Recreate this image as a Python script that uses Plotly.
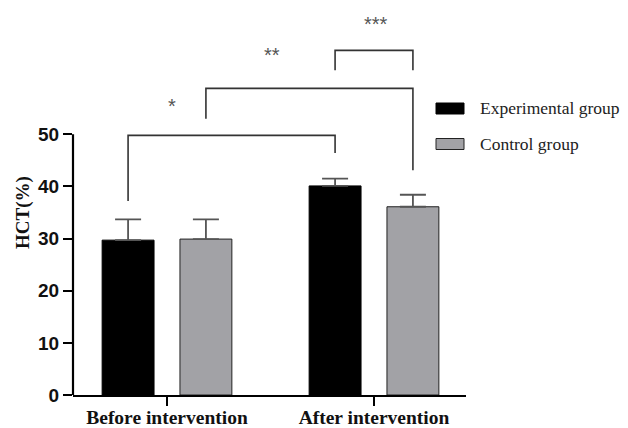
import plotly.graph_objects as go

categories = ["Before intervention", "After intervention"]
exp_values = [29.7, 40.1]
exp_err = [4.0, 1.4]
ctrl_values = [29.9, 36.1]
ctrl_err = [3.8, 2.3]
series_names = ["Experimental group", "Control group"]
y_ticks = [0, 10, 20, 30, 40, 50]

# significance brackets: (from bar, to bar, height, left leg bottom, right leg bottom, label)
# bars indexed as (category index, series index)
brackets = [
    ((0, 0), (1, 0), 49.8, 37.2, 46.4, "*"),
    ((0, 1), (1, 1), 58.8, 53.0, 43.1, "**"),
    ((1, 0), (1, 1), 66.1, 62.3, 62.3, "***"),
]
label_y = [55.5, 65.3, 71.1]
label_dx = [0.21, 0.32, 0.01]

OFFSET = 0.188
YMAX = 70
x_idx = list(range(len(categories)))

fig = go.Figure()
fig.add_trace(go.Bar(
    x=x_idx, y=exp_values, name=series_names[0],
    marker=dict(color="#000000", line=dict(color="#000000", width=1)),
    error_y=dict(type="data", array=exp_err, arrayminus=[0, 0], color="#555555",
                 thickness=1.8, width=13),
    showlegend=False,
))
fig.add_trace(go.Bar(
    x=x_idx, y=ctrl_values, name=series_names[1],
    marker=dict(color="#a2a2a6", line=dict(color="#222222", width=1)),
    error_y=dict(type="data", array=ctrl_err, arrayminus=[0, 0], color="#555555",
                 thickness=1.8, width=13),
    showlegend=False,
))

def bar_x(b):
    ci, si = b
    return ci + (-OFFSET if si == 0 else OFFSET)

shapes = []
annotations = []
for (b1, b2, h, l1, l2, lab), ly, dx in zip(brackets, label_y, label_dx):
    xa, xb = bar_x(b1), bar_x(b2)
    shapes.append(dict(type="path", xref="x", yref="y",
                       path=f"M {xa},{l1} L {xa},{h} L {xb},{h} L {xb},{l2}",
                       line=dict(color="#333333", width=1.6)))
    xc = xa + dx if lab != "***" else (xa + xb) / 2 + dx
    annotations.append(dict(x=xc, y=ly / YMAX,
                            xref="x", yref="paper", text=lab, showarrow=False,
                            yanchor="middle",
                            font=dict(family="Liberation Sans", size=20, color="#555555")))

# y axis line only to 50
shapes.append(dict(type="line", xref="paper", yref="y", x0=0, x1=0, y0=0, y1=50,
                   line=dict(color="#000000", width=2.2)))

# manual legend (positions in screen pixels of the 628x428 page, converted to paper)
PX0, PX1, PY_BOTTOM, PH = 73, 466, 395, 365
leg_colors = [("#000000", "#000000"), ("#a2a2a6", "#222222")]
leg_y = [108.5, 144]
for (fc, lc), name, yy in zip(leg_colors, series_names, leg_y):
    shapes.append(dict(type="rect", xref="paper", yref="paper",
                       x0=(436 - PX0) / (PX1 - PX0), x1=(464 - PX0) / (PX1 - PX0),
                       y0=(PY_BOTTOM - yy - 5.5) / PH, y1=(PY_BOTTOM - yy + 5.5) / PH,
                       fillcolor=fc, line=dict(color=lc, width=1)))
    annotations.append(dict(x=(478 - PX0) / (PX1 - PX0), y=(PY_BOTTOM - yy) / PH,
                            xref="paper", yref="paper",
                            xanchor="left", yanchor="middle", text=name, showarrow=False,
                            font=dict(family="Liberation Serif", size=17.5, color="#222222")))

# page body has an 8px margin: figure is 8px smaller, offset top/left
fig.update_layout(
    width=620, height=420,
    margin=dict(l=65, r=162, t=22, b=33),
    paper_bgcolor="white", plot_bgcolor="white",
    barmode="group", bargap=0.248, bargroupgap=0.333,
    shapes=shapes, annotations=annotations,
    showlegend=False,
)
fig.update_xaxes(
    range=[-94 / 207, 1 + 92 / 207],
    tickvals=x_idx, ticktext=[f"<b>{c}</b>" for c in categories],
    tickfont=dict(family="Liberation Serif", size=19.5, color="#111111"),
    showline=True, linecolor="#000000", linewidth=2.2,
    ticks="outside", ticklen=9, tickwidth=2, tickcolor="#000000",
    ticklabelstandoff=-6,
    showgrid=False, zeroline=False, automargin=False,
)
fig.update_yaxes(
    range=[0, YMAX],
    tickvals=y_ticks, ticktext=[f"<b>{t}</b>" for t in y_ticks],
    tickfont=dict(family="Liberation Sans", size=19, color="#111111"),
    ticks="outside", ticklen=9, tickwidth=2, tickcolor="#000000",
    showline=False, showgrid=False, zeroline=False, automargin=False,
    title=dict(text="<b>HCT(%)</b>", font=dict(family="Liberation Serif", size=19, color="#111111"),
               standoff=3),
)
fig.write_html("out.html")
